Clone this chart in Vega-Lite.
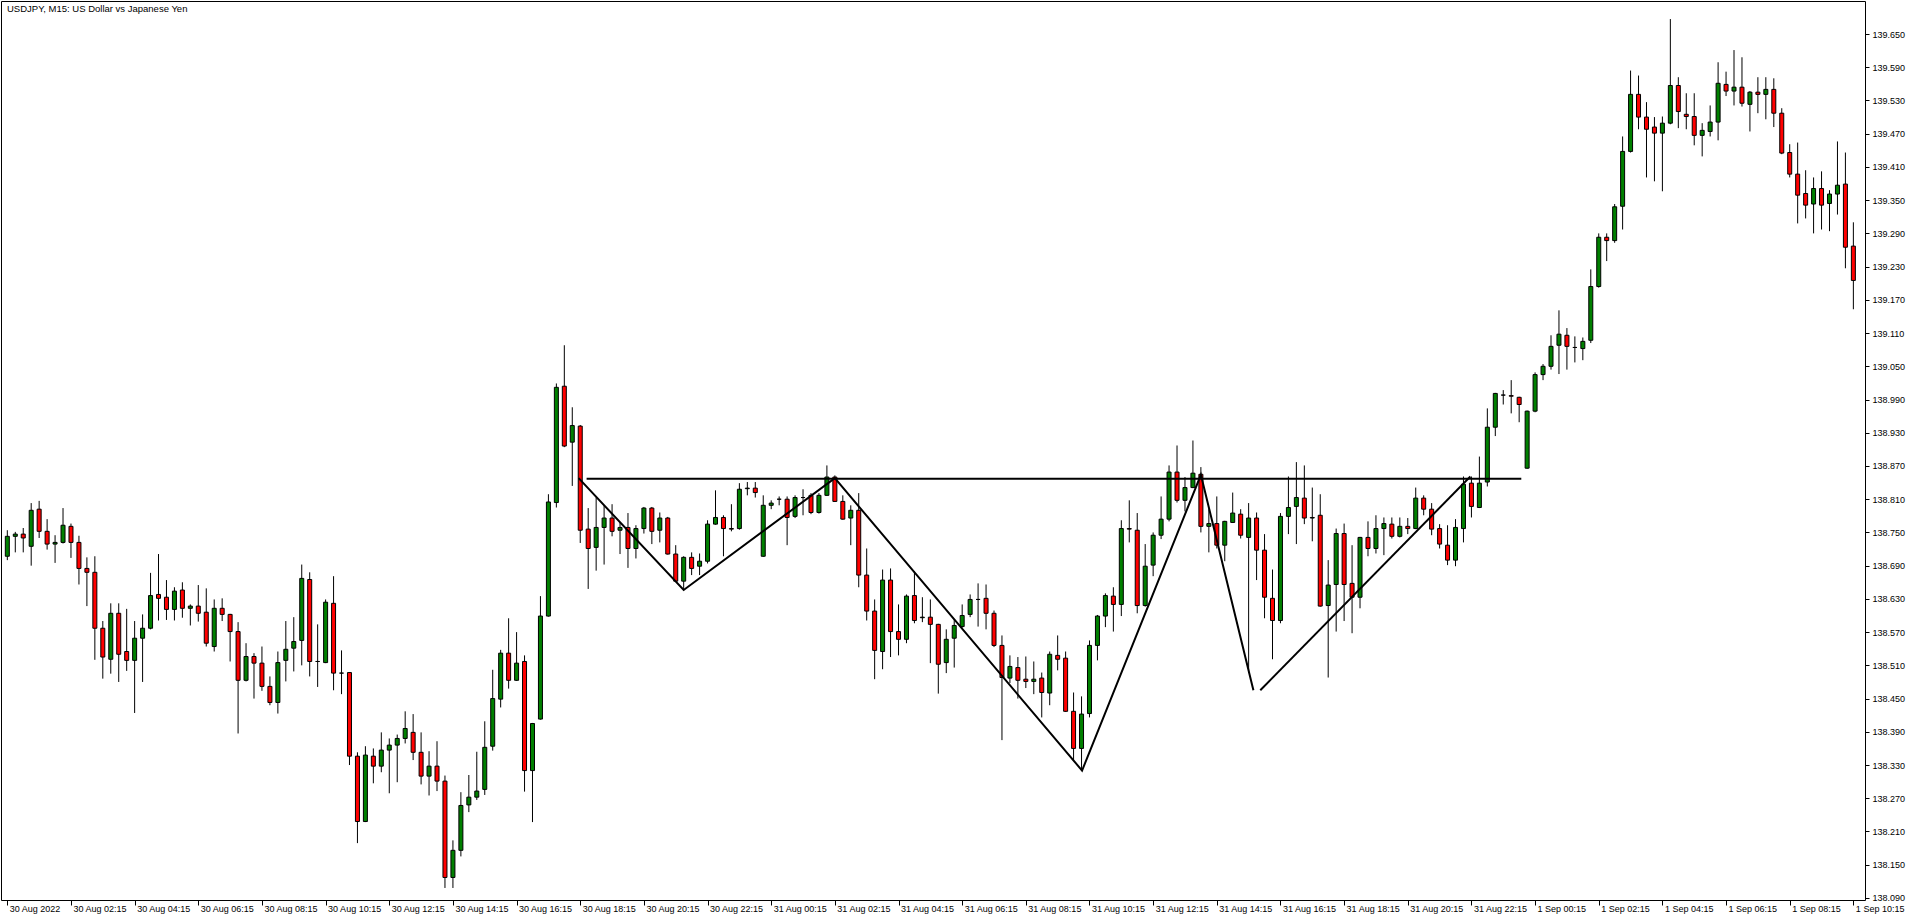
{
  "$schema": "https://vega.github.io/schema/vega-lite/v6.json",
  "width": 1864,
  "height": 899,
  "autosize": "none",
  "padding": {"left": 1, "top": 1, "right": 51, "bottom": 19},
  "background": "white",
  "config": {
    "view": {"stroke": "black", "strokeWidth": 1},
    "font": "Liberation Sans",
    "axis": {"grid": false, "domain": false, "tickColor": "black", "labelColor": "black", "labelFont": "Liberation Sans", "labelOverlap": false},
    "axisY": {"labelOverlap": false, "labelFontSize": 9}
  },
  "title": {"text": "USDJPY, M15:  US Dollar vs Japanese Yen", "anchor": "start", "orient": "top", "offset": -12, "dx": 6, "fontSize": 9.5, "fontWeight": "normal", "font": "Liberation Sans", "color": "black"},
  "data": {"values": [
{"t":"2022-08-30T00:15Z","open":138.707,"high":138.754,"low":138.700,"close":138.743},
{"t":"2022-08-30T00:30Z","open":138.743,"high":138.751,"low":138.714,"close":138.747},
{"t":"2022-08-30T00:45Z","open":138.747,"high":138.758,"low":138.714,"close":138.740},
{"t":"2022-08-30T01:00Z","open":138.725,"high":138.803,"low":138.690,"close":138.790},
{"t":"2022-08-30T01:15Z","open":138.792,"high":138.807,"low":138.740,"close":138.752},
{"t":"2022-08-30T01:30Z","open":138.752,"high":138.774,"low":138.719,"close":138.729},
{"t":"2022-08-30T01:45Z","open":138.729,"high":138.745,"low":138.695,"close":138.732},
{"t":"2022-08-30T02:00Z","open":138.732,"high":138.794,"low":138.730,"close":138.763},
{"t":"2022-08-30T02:15Z","open":138.761,"high":138.766,"low":138.704,"close":138.732},
{"t":"2022-08-30T02:30Z","open":138.732,"high":138.744,"low":138.656,"close":138.685},
{"t":"2022-08-30T02:45Z","open":138.685,"high":138.705,"low":138.617,"close":138.678},
{"t":"2022-08-30T03:00Z","open":138.678,"high":138.707,"low":138.520,"close":138.577},
{"t":"2022-08-30T03:15Z","open":138.577,"high":138.590,"low":138.486,"close":138.525},
{"t":"2022-08-30T03:30Z","open":138.521,"high":138.622,"low":138.495,"close":138.604},
{"t":"2022-08-30T03:45Z","open":138.604,"high":138.622,"low":138.480,"close":138.530},
{"t":"2022-08-30T04:00Z","open":138.535,"high":138.612,"low":138.500,"close":138.519},
{"t":"2022-08-30T04:15Z","open":138.519,"high":138.590,"low":138.424,"close":138.559},
{"t":"2022-08-30T04:30Z","open":138.559,"high":138.602,"low":138.480,"close":138.577},
{"t":"2022-08-30T04:45Z","open":138.577,"high":138.677,"low":138.575,"close":138.636},
{"t":"2022-08-30T05:00Z","open":138.638,"high":138.711,"low":138.591,"close":138.631},
{"t":"2022-08-30T05:15Z","open":138.633,"high":138.664,"low":138.592,"close":138.611},
{"t":"2022-08-30T05:30Z","open":138.611,"high":138.651,"low":138.591,"close":138.644},
{"t":"2022-08-30T05:45Z","open":138.646,"high":138.660,"low":138.596,"close":138.613},
{"t":"2022-08-30T06:00Z","open":138.613,"high":138.620,"low":138.582,"close":138.617},
{"t":"2022-08-30T06:15Z","open":138.617,"high":138.655,"low":138.589,"close":138.604},
{"t":"2022-08-30T06:30Z","open":138.606,"high":138.649,"low":138.544,"close":138.550},
{"t":"2022-08-30T06:45Z","open":138.544,"high":138.629,"low":138.535,"close":138.613},
{"t":"2022-08-30T07:00Z","open":138.613,"high":138.631,"low":138.590,"close":138.602},
{"t":"2022-08-30T07:15Z","open":138.602,"high":138.603,"low":138.517,"close":138.571},
{"t":"2022-08-30T07:30Z","open":138.571,"high":138.588,"low":138.387,"close":138.483},
{"t":"2022-08-30T07:45Z","open":138.483,"high":138.550,"low":138.481,"close":138.526},
{"t":"2022-08-30T08:00Z","open":138.526,"high":138.532,"low":138.450,"close":138.514},
{"t":"2022-08-30T08:15Z","open":138.514,"high":138.544,"low":138.464,"close":138.472},
{"t":"2022-08-30T08:30Z","open":138.472,"high":138.490,"low":138.438,"close":138.443},
{"t":"2022-08-30T08:45Z","open":138.443,"high":138.535,"low":138.423,"close":138.515},
{"t":"2022-08-30T09:00Z","open":138.519,"high":138.590,"low":138.481,"close":138.539},
{"t":"2022-08-30T09:15Z","open":138.541,"high":138.597,"low":138.499,"close":138.553},
{"t":"2022-08-30T09:30Z","open":138.555,"high":138.692,"low":138.510,"close":138.667},
{"t":"2022-08-30T09:45Z","open":138.665,"high":138.678,"low":138.490,"close":138.517},
{"t":"2022-08-30T10:00Z","open":138.517,"high":138.584,"low":138.471,"close":138.517},
{"t":"2022-08-30T10:15Z","open":138.515,"high":138.629,"low":138.514,"close":138.624},
{"t":"2022-08-30T10:30Z","open":138.622,"high":138.671,"low":138.465,"close":138.496},
{"t":"2022-08-30T10:45Z","open":138.496,"high":138.537,"low":138.458,"close":138.496},
{"t":"2022-08-30T11:00Z","open":138.497,"high":138.498,"low":138.330,"close":138.346},
{"t":"2022-08-30T11:15Z","open":138.346,"high":138.353,"low":138.189,"close":138.228},
{"t":"2022-08-30T11:30Z","open":138.228,"high":138.364,"low":138.227,"close":138.348},
{"t":"2022-08-30T11:45Z","open":138.346,"high":138.360,"low":138.297,"close":138.328},
{"t":"2022-08-30T12:00Z","open":138.328,"high":138.389,"low":138.317,"close":138.357},
{"t":"2022-08-30T12:15Z","open":138.357,"high":138.378,"low":138.279,"close":138.366},
{"t":"2022-08-30T12:30Z","open":138.366,"high":138.385,"low":138.299,"close":138.378},
{"t":"2022-08-30T12:45Z","open":138.378,"high":138.427,"low":138.369,"close":138.396},
{"t":"2022-08-30T13:00Z","open":138.389,"high":138.422,"low":138.339,"close":138.353},
{"t":"2022-08-30T13:15Z","open":138.353,"high":138.389,"low":138.295,"close":138.310},
{"t":"2022-08-30T13:30Z","open":138.310,"high":138.355,"low":138.275,"close":138.328},
{"t":"2022-08-30T13:45Z","open":138.328,"high":138.373,"low":138.283,"close":138.301},
{"t":"2022-08-30T14:00Z","open":138.301,"high":138.311,"low":138.108,"close":138.127},
{"t":"2022-08-30T14:15Z","open":138.127,"high":138.194,"low":138.108,"close":138.176},
{"t":"2022-08-30T14:30Z","open":138.176,"high":138.281,"low":138.165,"close":138.257},
{"t":"2022-08-30T14:45Z","open":138.258,"high":138.312,"low":138.245,"close":138.272},
{"t":"2022-08-30T15:00Z","open":138.272,"high":138.354,"low":138.267,"close":138.283},
{"t":"2022-08-30T15:15Z","open":138.286,"high":138.409,"low":138.276,"close":138.362},
{"t":"2022-08-30T15:30Z","open":138.364,"high":138.502,"low":138.356,"close":138.450},
{"t":"2022-08-30T15:45Z","open":138.449,"high":138.538,"low":138.434,"close":138.532},
{"t":"2022-08-30T16:00Z","open":138.532,"high":138.595,"low":138.468,"close":138.483},
{"t":"2022-08-30T16:15Z","open":138.483,"high":138.570,"low":138.482,"close":138.514},
{"t":"2022-08-30T16:30Z","open":138.517,"high":138.528,"low":138.282,"close":138.320},
{"t":"2022-08-30T16:45Z","open":138.320,"high":138.406,"low":138.227,"close":138.405},
{"t":"2022-08-30T17:00Z","open":138.413,"high":138.635,"low":138.412,"close":138.599},
{"t":"2022-08-30T17:15Z","open":138.599,"high":138.819,"low":138.598,"close":138.805},
{"t":"2022-08-30T17:30Z","open":138.804,"high":139.019,"low":138.795,"close":139.012},
{"t":"2022-08-30T17:45Z","open":139.014,"high":139.088,"low":138.904,"close":138.906},
{"t":"2022-08-30T18:00Z","open":138.913,"high":138.976,"low":138.834,"close":138.943},
{"t":"2022-08-30T18:15Z","open":138.942,"high":138.944,"low":138.731,"close":138.754},
{"t":"2022-08-30T18:30Z","open":138.756,"high":138.794,"low":138.648,"close":138.721},
{"t":"2022-08-30T18:45Z","open":138.723,"high":138.813,"low":138.681,"close":138.759},
{"t":"2022-08-30T19:00Z","open":138.759,"high":138.799,"low":138.692,"close":138.776},
{"t":"2022-08-30T19:15Z","open":138.776,"high":138.801,"low":138.743,"close":138.752},
{"t":"2022-08-30T19:30Z","open":138.754,"high":138.768,"low":138.711,"close":138.759},
{"t":"2022-08-30T19:45Z","open":138.759,"high":138.785,"low":138.686,"close":138.721},
{"t":"2022-08-30T20:00Z","open":138.721,"high":138.763,"low":138.703,"close":138.757},
{"t":"2022-08-30T20:15Z","open":138.757,"high":138.796,"low":138.748,"close":138.794},
{"t":"2022-08-30T20:30Z","open":138.794,"high":138.796,"low":138.729,"close":138.752},
{"t":"2022-08-30T20:45Z","open":138.754,"high":138.786,"low":138.732,"close":138.776},
{"t":"2022-08-30T21:00Z","open":138.776,"high":138.778,"low":138.710,"close":138.711},
{"t":"2022-08-30T21:15Z","open":138.711,"high":138.727,"low":138.661,"close":138.662},
{"t":"2022-08-30T21:30Z","open":138.662,"high":138.707,"low":138.646,"close":138.705},
{"t":"2022-08-30T21:45Z","open":138.705,"high":138.714,"low":138.673,"close":138.685},
{"t":"2022-08-30T22:00Z","open":138.689,"high":138.712,"low":138.673,"close":138.698},
{"t":"2022-08-30T22:15Z","open":138.698,"high":138.772,"low":138.694,"close":138.765},
{"t":"2022-08-30T22:30Z","open":138.765,"high":138.826,"low":138.764,"close":138.777},
{"t":"2022-08-30T22:45Z","open":138.777,"high":138.781,"low":138.707,"close":138.757},
{"t":"2022-08-30T23:00Z","open":138.757,"high":138.801,"low":138.752,"close":138.756},
{"t":"2022-08-30T23:15Z","open":138.757,"high":138.839,"low":138.755,"close":138.828},
{"t":"2022-08-30T23:30Z","open":138.829,"high":138.841,"low":138.817,"close":138.830},
{"t":"2022-08-30T23:45Z","open":138.830,"high":138.841,"low":138.813,"close":138.822},
{"t":"2022-08-31T00:00Z","open":138.707,"high":138.817,"low":138.706,"close":138.799},
{"t":"2022-08-31T00:15Z","open":138.799,"high":138.808,"low":138.792,"close":138.803},
{"t":"2022-08-31T00:30Z","open":138.810,"high":138.815,"low":138.799,"close":138.810},
{"t":"2022-08-31T00:45Z","open":138.810,"high":138.815,"low":138.727,"close":138.777},
{"t":"2022-08-31T01:00Z","open":138.779,"high":138.817,"low":138.776,"close":138.813},
{"t":"2022-08-31T01:15Z","open":138.813,"high":138.828,"low":138.781,"close":138.813},
{"t":"2022-08-31T01:30Z","open":138.817,"high":138.821,"low":138.783,"close":138.786},
{"t":"2022-08-31T01:45Z","open":138.786,"high":138.821,"low":138.784,"close":138.817},
{"t":"2022-08-31T02:00Z","open":138.817,"high":138.871,"low":138.816,"close":138.850},
{"t":"2022-08-31T02:15Z","open":138.850,"high":138.853,"low":138.805,"close":138.806},
{"t":"2022-08-31T02:30Z","open":138.806,"high":138.817,"low":138.773,"close":138.774},
{"t":"2022-08-31T02:45Z","open":138.776,"high":138.799,"low":138.727,"close":138.790},
{"t":"2022-08-31T03:00Z","open":138.790,"high":138.821,"low":138.651,"close":138.673},
{"t":"2022-08-31T03:15Z","open":138.673,"high":138.721,"low":138.591,"close":138.608},
{"t":"2022-08-31T03:30Z","open":138.608,"high":138.629,"low":138.485,"close":138.537},
{"t":"2022-08-31T03:45Z","open":138.535,"high":138.683,"low":138.503,"close":138.664},
{"t":"2022-08-31T04:00Z","open":138.664,"high":138.685,"low":138.525,"close":138.571},
{"t":"2022-08-31T04:15Z","open":138.571,"high":138.620,"low":138.528,"close":138.557},
{"t":"2022-08-31T04:30Z","open":138.557,"high":138.638,"low":138.550,"close":138.635},
{"t":"2022-08-31T04:45Z","open":138.636,"high":138.680,"low":138.586,"close":138.591},
{"t":"2022-08-31T05:00Z","open":138.596,"high":138.633,"low":138.588,"close":138.597},
{"t":"2022-08-31T05:15Z","open":138.597,"high":138.629,"low":138.514,"close":138.584},
{"t":"2022-08-31T05:30Z","open":138.584,"high":138.585,"low":138.459,"close":138.512},
{"t":"2022-08-31T05:45Z","open":138.515,"high":138.575,"low":138.496,"close":138.557},
{"t":"2022-08-31T06:00Z","open":138.559,"high":138.593,"low":138.506,"close":138.582},
{"t":"2022-08-31T06:15Z","open":138.580,"high":138.620,"low":138.578,"close":138.600},
{"t":"2022-08-31T06:30Z","open":138.602,"high":138.638,"low":138.597,"close":138.629},
{"t":"2022-08-31T06:45Z","open":138.629,"high":138.658,"low":138.580,"close":138.629},
{"t":"2022-08-31T07:00Z","open":138.631,"high":138.656,"low":138.575,"close":138.604},
{"t":"2022-08-31T07:15Z","open":138.604,"high":138.609,"low":138.543,"close":138.546},
{"t":"2022-08-31T07:30Z","open":138.546,"high":138.564,"low":138.375,"close":138.488},
{"t":"2022-08-31T07:45Z","open":138.487,"high":138.528,"low":138.478,"close":138.508},
{"t":"2022-08-31T08:00Z","open":138.506,"high":138.525,"low":138.450,"close":138.483},
{"t":"2022-08-31T08:15Z","open":138.485,"high":138.526,"low":138.469,"close":138.481},
{"t":"2022-08-31T08:30Z","open":138.481,"high":138.517,"low":138.458,"close":138.485},
{"t":"2022-08-31T08:45Z","open":138.487,"high":138.497,"low":138.416,"close":138.461},
{"t":"2022-08-31T09:00Z","open":138.460,"high":138.535,"low":138.438,"close":138.530},
{"t":"2022-08-31T09:15Z","open":138.528,"high":138.564,"low":138.501,"close":138.521},
{"t":"2022-08-31T09:30Z","open":138.523,"high":138.535,"low":138.426,"close":138.427},
{"t":"2022-08-31T09:45Z","open":138.427,"high":138.461,"low":138.339,"close":138.360},
{"t":"2022-08-31T10:00Z","open":138.360,"high":138.454,"low":138.322,"close":138.422},
{"t":"2022-08-31T10:15Z","open":138.423,"high":138.555,"low":138.416,"close":138.546},
{"t":"2022-08-31T10:30Z","open":138.546,"high":138.601,"low":138.519,"close":138.599},
{"t":"2022-08-31T10:45Z","open":138.599,"high":138.640,"low":138.579,"close":138.636},
{"t":"2022-08-31T11:00Z","open":138.635,"high":138.651,"low":138.571,"close":138.620},
{"t":"2022-08-31T11:15Z","open":138.620,"high":138.772,"low":138.599,"close":138.757},
{"t":"2022-08-31T11:30Z","open":138.757,"high":138.808,"low":138.732,"close":138.756},
{"t":"2022-08-31T11:45Z","open":138.754,"high":138.785,"low":138.604,"close":138.618},
{"t":"2022-08-31T12:00Z","open":138.618,"high":138.729,"low":138.616,"close":138.689},
{"t":"2022-08-31T12:15Z","open":138.691,"high":138.750,"low":138.671,"close":138.745},
{"t":"2022-08-31T12:30Z","open":138.745,"high":138.815,"low":138.738,"close":138.774},
{"t":"2022-08-31T12:45Z","open":138.774,"high":138.871,"low":138.770,"close":138.859},
{"t":"2022-08-31T13:00Z","open":138.859,"high":138.907,"low":138.804,"close":138.808},
{"t":"2022-08-31T13:15Z","open":138.808,"high":138.850,"low":138.788,"close":138.831},
{"t":"2022-08-31T13:30Z","open":138.831,"high":138.916,"low":138.830,"close":138.857},
{"t":"2022-08-31T13:45Z","open":138.855,"high":138.868,"low":138.750,"close":138.761},
{"t":"2022-08-31T14:00Z","open":138.761,"high":138.792,"low":138.714,"close":138.766},
{"t":"2022-08-31T14:15Z","open":138.766,"high":138.815,"low":138.721,"close":138.727},
{"t":"2022-08-31T14:30Z","open":138.727,"high":138.771,"low":138.698,"close":138.770},
{"t":"2022-08-31T14:45Z","open":138.768,"high":138.822,"low":138.767,"close":138.785},
{"t":"2022-08-31T15:00Z","open":138.783,"high":138.792,"low":138.739,"close":138.745},
{"t":"2022-08-31T15:15Z","open":138.741,"high":138.803,"low":138.496,"close":138.776},
{"t":"2022-08-31T15:30Z","open":138.776,"high":138.786,"low":138.664,"close":138.718},
{"t":"2022-08-31T15:45Z","open":138.718,"high":138.747,"low":138.595,"close":138.633},
{"t":"2022-08-31T16:00Z","open":138.631,"high":138.683,"low":138.521,"close":138.591},
{"t":"2022-08-31T16:15Z","open":138.591,"high":138.785,"low":138.586,"close":138.779},
{"t":"2022-08-31T16:30Z","open":138.779,"high":138.851,"low":138.747,"close":138.795},
{"t":"2022-08-31T16:45Z","open":138.797,"high":138.877,"low":138.729,"close":138.813},
{"t":"2022-08-31T17:00Z","open":138.812,"high":138.871,"low":138.765,"close":138.776},
{"t":"2022-08-31T17:15Z","open":138.776,"high":138.831,"low":138.734,"close":138.777},
{"t":"2022-08-31T17:30Z","open":138.781,"high":138.819,"low":138.616,"close":138.617},
{"t":"2022-08-31T17:45Z","open":138.618,"high":138.700,"low":138.488,"close":138.655},
{"t":"2022-08-31T18:00Z","open":138.656,"high":138.757,"low":138.571,"close":138.748},
{"t":"2022-08-31T18:15Z","open":138.748,"high":138.766,"low":138.590,"close":138.656},
{"t":"2022-08-31T18:30Z","open":138.658,"high":138.727,"low":138.568,"close":138.633},
{"t":"2022-08-31T18:45Z","open":138.633,"high":138.742,"low":138.613,"close":138.741},
{"t":"2022-08-31T19:00Z","open":138.741,"high":138.770,"low":138.707,"close":138.721},
{"t":"2022-08-31T19:15Z","open":138.721,"high":138.781,"low":138.712,"close":138.757},
{"t":"2022-08-31T19:30Z","open":138.757,"high":138.777,"low":138.709,"close":138.766},
{"t":"2022-08-31T19:45Z","open":138.765,"high":138.777,"low":138.739,"close":138.743},
{"t":"2022-08-31T20:00Z","open":138.743,"high":138.777,"low":138.741,"close":138.761},
{"t":"2022-08-31T20:15Z","open":138.761,"high":138.776,"low":138.747,"close":138.757},
{"t":"2022-08-31T20:30Z","open":138.757,"high":138.831,"low":138.756,"close":138.812},
{"t":"2022-08-31T20:45Z","open":138.812,"high":138.817,"low":138.781,"close":138.792},
{"t":"2022-08-31T21:00Z","open":138.792,"high":138.803,"low":138.745,"close":138.756},
{"t":"2022-08-31T21:15Z","open":138.757,"high":138.765,"low":138.721,"close":138.729},
{"t":"2022-08-31T21:30Z","open":138.727,"high":138.763,"low":138.691,"close":138.700},
{"t":"2022-08-31T21:45Z","open":138.700,"high":138.774,"low":138.689,"close":138.759},
{"t":"2022-08-31T22:00Z","open":138.757,"high":138.851,"low":138.732,"close":138.837},
{"t":"2022-08-31T22:15Z","open":138.839,"high":138.851,"low":138.777,"close":138.797},
{"t":"2022-08-31T22:30Z","open":138.795,"high":138.887,"low":138.794,"close":138.839},
{"t":"2022-08-31T22:45Z","open":138.841,"high":138.974,"low":138.833,"close":138.940},
{"t":"2022-08-31T23:00Z","open":138.940,"high":139.002,"low":138.924,"close":139.001},
{"t":"2022-08-31T23:15Z","open":138.998,"high":139.007,"low":138.981,"close":138.998},
{"t":"2022-08-31T23:30Z","open":138.997,"high":139.025,"low":138.965,"close":138.996},
{"t":"2022-08-31T23:45Z","open":138.994,"high":138.995,"low":138.949,"close":138.981},
{"t":"2022-09-01T00:00Z","open":138.866,"high":138.970,"low":138.865,"close":138.969},
{"t":"2022-09-01T00:15Z","open":138.969,"high":139.039,"low":138.967,"close":139.035},
{"t":"2022-09-01T00:30Z","open":139.035,"high":139.054,"low":139.025,"close":139.050},
{"t":"2022-09-01T00:45Z","open":139.050,"high":139.106,"low":139.044,"close":139.086},
{"t":"2022-09-01T01:00Z","open":139.088,"high":139.151,"low":139.036,"close":139.108},
{"t":"2022-09-01T01:15Z","open":139.106,"high":139.119,"low":139.044,"close":139.086},
{"t":"2022-09-01T01:30Z","open":139.084,"high":139.104,"low":139.057,"close":139.084},
{"t":"2022-09-01T01:45Z","open":139.082,"high":139.102,"low":139.061,"close":139.095},
{"t":"2022-09-01T02:00Z","open":139.097,"high":139.225,"low":139.092,"close":139.194},
{"t":"2022-09-01T02:15Z","open":139.194,"high":139.290,"low":139.192,"close":139.283},
{"t":"2022-09-01T02:30Z","open":139.283,"high":139.290,"low":139.240,"close":139.277},
{"t":"2022-09-01T02:45Z","open":139.277,"high":139.343,"low":139.273,"close":139.338},
{"t":"2022-09-01T03:00Z","open":139.339,"high":139.465,"low":139.297,"close":139.438},
{"t":"2022-09-01T03:15Z","open":139.438,"high":139.584,"low":139.436,"close":139.541},
{"t":"2022-09-01T03:30Z","open":139.541,"high":139.575,"low":139.478,"close":139.500},
{"t":"2022-09-01T03:45Z","open":139.500,"high":139.527,"low":139.391,"close":139.478},
{"t":"2022-09-01T04:00Z","open":139.482,"high":139.500,"low":139.384,"close":139.471},
{"t":"2022-09-01T04:15Z","open":139.471,"high":139.501,"low":139.366,"close":139.489},
{"t":"2022-09-01T04:30Z","open":139.489,"high":139.677,"low":139.487,"close":139.557},
{"t":"2022-09-01T04:45Z","open":139.557,"high":139.572,"low":139.480,"close":139.510},
{"t":"2022-09-01T05:00Z","open":139.505,"high":139.543,"low":139.478,"close":139.501},
{"t":"2022-09-01T05:15Z","open":139.501,"high":139.543,"low":139.449,"close":139.467},
{"t":"2022-09-01T05:30Z","open":139.467,"high":139.489,"low":139.429,"close":139.476},
{"t":"2022-09-01T05:45Z","open":139.474,"high":139.521,"low":139.465,"close":139.491},
{"t":"2022-09-01T06:00Z","open":139.491,"high":139.599,"low":139.458,"close":139.561},
{"t":"2022-09-01T06:15Z","open":139.559,"high":139.582,"low":139.538,"close":139.547},
{"t":"2022-09-01T06:30Z","open":139.547,"high":139.621,"low":139.521,"close":139.554},
{"t":"2022-09-01T06:45Z","open":139.554,"high":139.608,"low":139.519,"close":139.525},
{"t":"2022-09-01T07:00Z","open":139.523,"high":139.547,"low":139.474,"close":139.545},
{"t":"2022-09-01T07:15Z","open":139.545,"high":139.572,"low":139.507,"close":139.541},
{"t":"2022-09-01T07:30Z","open":139.541,"high":139.572,"low":139.496,"close":139.550},
{"t":"2022-09-01T07:45Z","open":139.550,"high":139.570,"low":139.482,"close":139.507},
{"t":"2022-09-01T08:00Z","open":139.507,"high":139.516,"low":139.433,"close":139.435},
{"t":"2022-09-01T08:15Z","open":139.436,"high":139.451,"low":139.391,"close":139.397},
{"t":"2022-09-01T08:30Z","open":139.397,"high":139.454,"low":139.308,"close":139.359},
{"t":"2022-09-01T08:45Z","open":139.362,"high":139.404,"low":139.317,"close":139.341},
{"t":"2022-09-01T09:00Z","open":139.343,"high":139.391,"low":139.290,"close":139.371},
{"t":"2022-09-01T09:15Z","open":139.371,"high":139.402,"low":139.297,"close":139.341},
{"t":"2022-09-01T09:30Z","open":139.344,"high":139.368,"low":139.294,"close":139.361},
{"t":"2022-09-01T09:45Z","open":139.361,"high":139.456,"low":139.324,"close":139.377},
{"t":"2022-09-01T10:00Z","open":139.379,"high":139.436,"low":139.227,"close":139.265},
{"t":"2022-09-01T10:15Z","open":139.267,"high":139.310,"low":139.153,"close":139.205}
  ]},
  "encoding": {
    "x": {"field": "t", "type": "temporal", "title": null, "scale": {"type": "utc", "domain": [1661818350000, 1662028050000]},
      "axis": {"title": null, "orient": "bottom", "values": [1661818500000,1661825700000,1661832900000,1661840100000,1661847300000,1661854500000,1661861700000,1661868900000,1661876100000,1661883300000,1661890500000,1661897700000,1661904900000,1661912100000,1661919300000,1661926500000,1661933700000,1661940900000,1661948100000,1661955300000,1661962500000,1661969700000,1661976900000,1661984100000,1661991300000,1661998500000,1662005700000,1662012900000,1662020100000,1662027300000],
        "labelExpr": "time(datum.value) == 1661818500000 ? '30 Aug 2022' : utcFormat(datum.value, '%-d %b %H:%M')",
        "labelAlign": "left", "labelBaseline": "top", "labelPadding": -1, "labelOffset": 2, "tickSize": 5, "labelFlush": false, "labelOverlap": false, "labelFontSize": 9, "labelBound": false}}
  },
  "layer": [
    {"mark": {"type": "rule", "color": "black", "strokeWidth": 1},
     "encoding": {"y": {"field": "low", "type": "quantitative", "title": null, "scale": {"domain": [138.0863, 139.7096], "nice": false, "zero": false},
        "axis": {"title": null, "orient": "right", "values": [138.09,138.15,138.21,138.27,138.33,138.39,138.45,138.51,138.57,138.63,138.69,138.75,138.81,138.87,138.93,138.99,139.05,139.11,139.17,139.23,139.29,139.35,139.41,139.47,139.53,139.59,139.65], "format": ".3f", "tickSize": 4, "labelPadding": 3, "labelOverlap": false, "labelFontSize": 9}},
       "y2": {"field": "high"}}},
    {"mark": {"type": "bar", "size": 4, "stroke": "black", "strokeWidth": 1},
     "encoding": {"y": {"field": "open", "type": "quantitative", "title": null, "axis": {"title": null, "orient": "right", "values": [138.09,138.15,138.21,138.27,138.33,138.39,138.45,138.51,138.57,138.63,138.69,138.75,138.81,138.87,138.93,138.99,139.05,139.11,139.17,139.23,139.29,139.35,139.41,139.47,139.53,139.59,139.65], "format": ".3f", "tickSize": 4, "labelPadding": 3, "labelOverlap": false, "labelFontSize": 9}}, "y2": {"field": "close"},
       "color": {"condition": {"test": "datum.close >= datum.open", "value": "#008000"}, "value": "#ff0000"}}},
    {"data": {"values": [
      {"seg": "zig", "t": "2022-08-30T18:12Z", "p": 138.848},
      {"seg": "zig", "t": "2022-08-30T21:30Z", "p": 138.646},
      {"seg": "zig", "t": "2022-08-31T02:15Z", "p": 138.848},
      {"seg": "zig", "t": "2022-08-31T10:01Z", "p": 138.320},
      {"seg": "zig", "t": "2022-08-31T13:45Z", "p": 138.854},
      {"seg": "zig", "t": "2022-08-31T15:24Z", "p": 138.465},
      {"seg": "rise", "t": "2022-08-31T15:37Z", "p": 138.465},
      {"seg": "rise", "t": "2022-08-31T22:13Z", "p": 138.851},
      {"seg": "neck", "t": "2022-08-30T18:27Z", "p": 138.847},
      {"seg": "neck", "t": "2022-08-31T23:49Z", "p": 138.847}
     ]},
     "mark": {"type": "line", "color": "black", "strokeWidth": 2},
     "encoding": {"y": {"field": "p", "type": "quantitative", "title": null, "axis": {"title": null, "orient": "right", "values": [138.09,138.15,138.21,138.27,138.33,138.39,138.45,138.51,138.57,138.63,138.69,138.75,138.81,138.87,138.93,138.99,139.05,139.11,139.17,139.23,139.29,139.35,139.41,139.47,139.53,139.59,139.65], "format": ".3f", "tickSize": 4, "labelPadding": 3, "labelOverlap": false, "labelFontSize": 9}}, "detail": {"field": "seg"}}}
  ]
}
